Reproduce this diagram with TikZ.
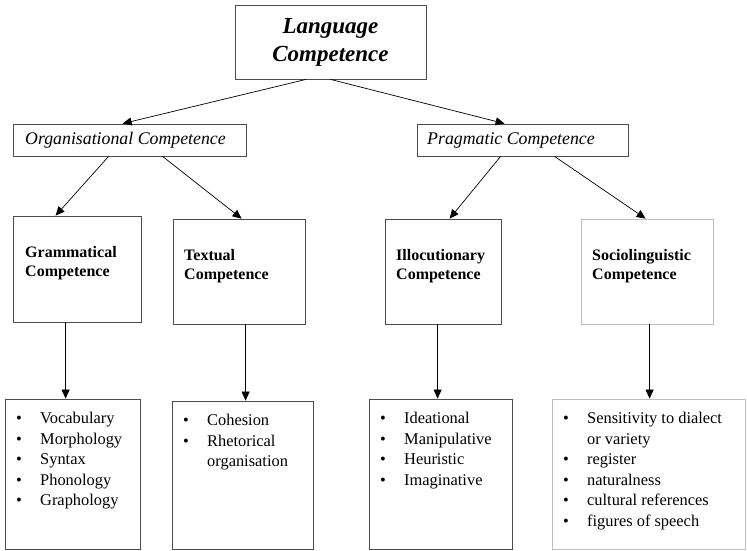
\documentclass[tikz,border=0pt]{standalone}
\usepackage{fontspec}
\setmainfont{Liberation Serif}
\usetikzlibrary{arrows.meta,calc}
\newcommand{\bul}[1]{\makebox[24pt][l]{\textbullet}#1}
\newcommand{\cont}[1]{\hspace*{24pt}#1}
\begin{document}
\begin{tikzpicture}[x=1pt,y=-1pt,
  box/.style={draw=black!70,line width=0.8pt,inner sep=0pt},
  lbox/.style={draw=black!25,line width=0.8pt,inner sep=0pt},
  arr/.style={-{Triangle[length=9pt,width=8pt]},line width=0.7pt},
  head/.style={anchor=west,inner sep=0pt,align=left,font=\fontsize{16}{19}\selectfont\bfseries},
  mid/.style={anchor=west,inner sep=0pt,font=\fontsize{17.8}{20}\selectfont\itshape},
  lst/.style={anchor=north west,inner sep=0pt,align=left,font=\fontsize{16.4}{20.5}\selectfont}]
\useasboundingbox (0,0) rectangle (747,550);
% top
\node[box,minimum width=191pt,minimum height=74pt,align=center,font=\fontsize{23}{28}\selectfont\bfseries\itshape] (lang) at (330.5,42) {Language\\Competence};
% middle
\node[box,minimum width=233pt,minimum height=32pt] (org) at (129.5,140) {};
\node[mid] (orgt) at (25,140) {Organisational Competence};
\node[box,minimum width=211pt,minimum height=32pt] (prag) at (522.5,140) {};
\node[mid] (pragt) at (427,140) {Pragmatic Competence};
% second row
\node[box,minimum width=128pt,minimum height=106pt] (gram) at (77,269) {};
\node[head] (gramt) at (25,263.5) {Grammatical\\Competence};
\node[box,minimum width=132pt,minimum height=105pt] (text) at (239,271.5) {};
\node[head] (textt) at (184,266.5) {Textual\\Competence};
\node[box,minimum width=116pt,minimum height=105pt] (illoc) at (443,271.5) {};
\node[head] (illoct) at (396,266.5) {Illocutionary\\Competence};
\node[lbox,minimum width=132pt,minimum height=105pt] (socio) at (647,271.5) {};
\node[head] (sociot) at (592,266.5) {Sociolinguistic\\Competence};
% third row
\node[box,minimum width=135pt,minimum height=150pt] (voc) at (72.5,474) {};
\node[lst] (voct) at (16,412) {\bul{Vocabulary}\\\bul{Morphology}\\\bul{Syntax}\\\bul{Phonology}\\\bul{Graphology}};
\node[box,minimum width=141pt,minimum height=148pt] (coh) at (242.5,475) {};
\node[lst] (coht) at (183,414) {\bul{Cohesion}\\\bul{Rhetorical}\\\cont{organisation}};
\node[box,minimum width=143pt,minimum height=150pt] (ide) at (440.5,474) {};
\node[lst] (idet) at (380,412) {\bul{Ideational}\\\bul{Manipulative}\\\bul{Heuristic}\\\bul{Imaginative}};
\node[lbox,minimum width=193pt,minimum height=150pt] (soc) at (648.5,474) {};
\node[lst] (soct) at (563,412) {\bul{Sensitivity to dialect}\\\cont{or variety}\\\bul{register}\\\bul{naturalness}\\\bul{cultural references}\\\bul{figures of speech}};
% arrow anchors
\coordinate (g1) at ($(gram.south west)+(53,0)$);
\coordinate (t1) at ($(text.south west)+(73,0)$);
\coordinate (i1) at ($(illoc.south west)+(53,0)$);
\coordinate (s1) at ($(socio.south west)+(69,0)$);
% arrows
\draw[arr] ($(lang.south)+(-24.5,0)$) -- ($(org.north west)+(110,0)$);
\draw[arr] (lang.south) -- ($(prag.north west)+(88,0)$);
\draw[arr] ($(org.south west)+(96,0)$) -- ($(gram.north west)+(43,0)$);
\draw[arr] ($(org.south west)+(150,0)$) -- ($(text.north west)+(69,0)$);
\draw[arr] ($(prag.south west)+(84,0)$) -- ($(illoc.north west)+(65,0)$);
\draw[arr] ($(prag.south west)+(138,0)$) -- ($(socio.north west)+(65,0)$);
\draw[arr] (g1) -- (g1 |- voc.north);
\draw[arr] (t1) -- (t1 |- coh.north);
\draw[arr] (i1) -- (i1 |- ide.north);
\draw[arr] (s1) -- (s1 |- soc.north);
\end{tikzpicture}
\end{document}
